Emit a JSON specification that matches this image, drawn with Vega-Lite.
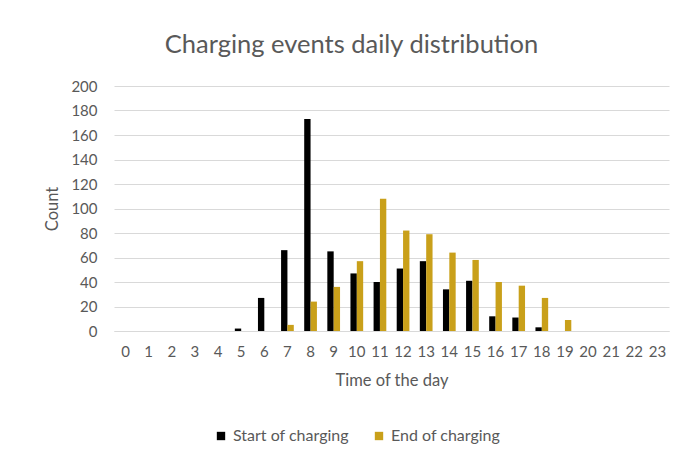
{
  "$schema": "https://vega.github.io/schema/vega-lite/v6.json",
  "width": 555,
  "height": 245,
  "autosize": "none",
  "padding": {"left": 114, "top": 86, "right": 25, "bottom": 127},
  "background": "white",
  "title": {"text": "Charging events daily distribution", "fontSize": 25.5, "font": "Lato", "fontWeight": "normal", "color": "#595959", "offset": 21, "dx": -40},
  "data": {"values": [
    {"hour": 5, "series": "Start of charging", "count": 2},
    {"hour": 6, "series": "Start of charging", "count": 27},
    {"hour": 7, "series": "Start of charging", "count": 66},
    {"hour": 8, "series": "Start of charging", "count": 173},
    {"hour": 9, "series": "Start of charging", "count": 65},
    {"hour": 10, "series": "Start of charging", "count": 47},
    {"hour": 11, "series": "Start of charging", "count": 40},
    {"hour": 12, "series": "Start of charging", "count": 51},
    {"hour": 13, "series": "Start of charging", "count": 57},
    {"hour": 14, "series": "Start of charging", "count": 34},
    {"hour": 15, "series": "Start of charging", "count": 41},
    {"hour": 16, "series": "Start of charging", "count": 12},
    {"hour": 17, "series": "Start of charging", "count": 11},
    {"hour": 18, "series": "Start of charging", "count": 3},
    {"hour": 7, "series": "End of charging", "count": 5},
    {"hour": 8, "series": "End of charging", "count": 24},
    {"hour": 9, "series": "End of charging", "count": 36},
    {"hour": 10, "series": "End of charging", "count": 57},
    {"hour": 11, "series": "End of charging", "count": 108},
    {"hour": 12, "series": "End of charging", "count": 82},
    {"hour": 13, "series": "End of charging", "count": 79},
    {"hour": 14, "series": "End of charging", "count": 64},
    {"hour": 15, "series": "End of charging", "count": 58},
    {"hour": 16, "series": "End of charging", "count": 40},
    {"hour": 17, "series": "End of charging", "count": 37},
    {"hour": 18, "series": "End of charging", "count": 27},
    {"hour": 19, "series": "End of charging", "count": 9}
  ]},
  "mark": {"type": "bar"},
  "encoding": {
    "x": {
      "field": "hour", "type": "ordinal",
      "scale": {"domain": [0,1,2,3,4,5,6,7,8,9,10,11,12,13,14,15,16,17,18,19,20,21,22,23], "paddingInner": 0.45, "paddingOuter": 0.225},
      "axis": {"title": "Time of the day", "labelAngle": 0, "ticks": false, "domainColor": "#d9d9d9", "labelColor": "#595959", "labelFontSize": 15, "labelFont": "Lato", "labelPadding": 13, "titleFont": "Lato", "titleFontSize": 16.5, "titleColor": "#595959", "titleFontWeight": "normal", "titlePadding": 13, "grid": false}
    },
    "xOffset": {"field": "series", "type": "nominal", "sort": ["Start of charging", "End of charging"], "scale": {"paddingInner": 0, "paddingOuter": 0}},
    "y": {
      "field": "count", "type": "quantitative",
      "scale": {"domain": [0, 200]},
      "axis": {"values": [0,20,40,60,80,100,120,140,160,180,200], "title": "Count", "domain": false, "ticks": false, "gridColor": "#d9d9d9", "gridWidth": 1, "labelColor": "#595959", "labelFontSize": 15, "labelFont": "Lato", "labelPadding": 17, "titleFont": "Lato", "titleFontSize": 16.5, "titleColor": "#595959", "titleFontWeight": "normal", "titlePadding": 10}
    },
    "color": {
      "field": "series", "type": "nominal",
      "scale": {"domain": ["Start of charging", "End of charging"], "range": ["#000000", "#C9A01A"]},
      "legend": {"orient": "none", "legendX": 99, "legendY": 342, "direction": "horizontal", "title": null, "symbolType": "square", "symbolSize": 70, "labelFont": "Lato", "labelFontSize": 16, "labelColor": "#595959", "columnPadding": 22}
    }
  },
  "config": {"view": {"stroke": null}}
}
